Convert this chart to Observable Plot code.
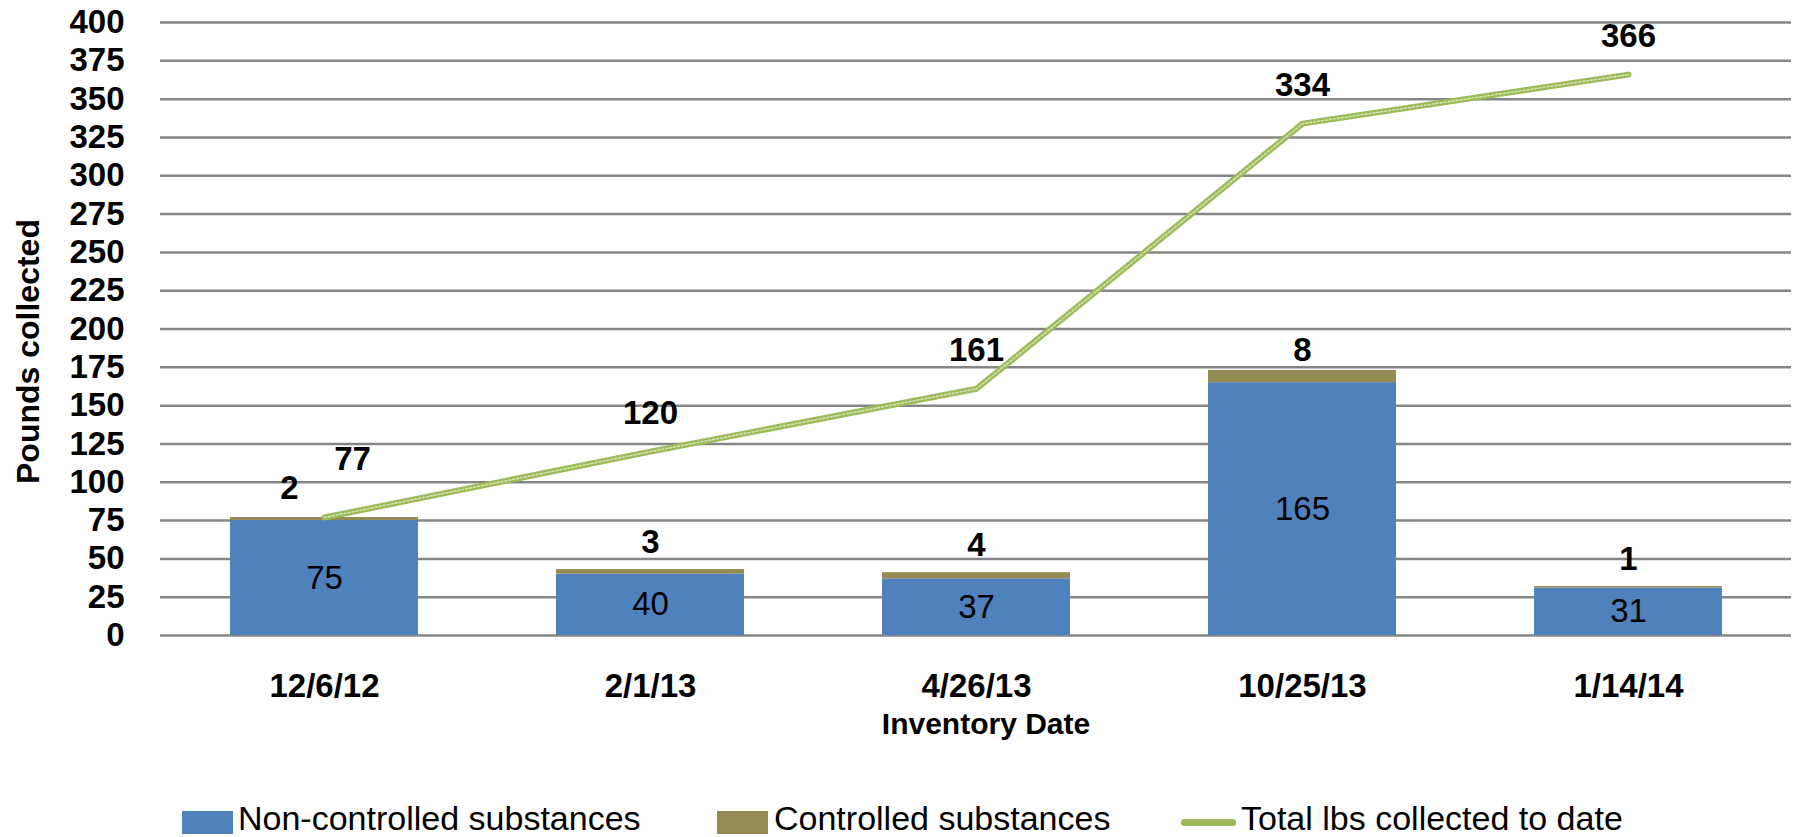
<!DOCTYPE html>
<html>
<head>
<meta charset="utf-8">
<script src="https://cdn.jsdelivr.net/npm/d3@7"></script>
<script src="https://cdn.jsdelivr.net/npm/@observablehq/plot@0.6"></script>
<style>
  html, body { margin: 0; padding: 0; background: #fff; }
  body { width: 1794px; height: 837px; overflow: hidden; font-family: "Liberation Sans", Arial, sans-serif; color: #000; }
  #legend { position: relative; width: 1794px; height: 47px; }
  #legend .sw { position: absolute; }
  #legend .lt { position: absolute; font-size: 34px; line-height: 26px; white-space: nowrap; }
</style>
</head>
<body>
<div id="chart"></div>
<div id="legend"></div>
<script>
// ---- data ----
const dates = ["12/6/12", "2/1/13", "4/26/13", "10/25/13", "1/14/14"];
const nonControlled = [75, 40, 37, 165, 31];
const controlled = [2, 3, 4, 8, 1];
const totalToDate = [77, 120, 161, 334, 366];
const yTicks = [0, 25, 50, 75, 100, 125, 150, 175, 200, 225, 250, 275, 300, 325, 350, 375, 400];
const seriesNames = ["Non-controlled substances", "Controlled substances", "Total lbs collected to date"];
const seriesColors = ["#4F81BD", "#948A54", "#9BBB59"];

// ---- tables built from the arrays ----
const bars = dates.flatMap((d, i) => [
  {date: d, type: seriesNames[0], value: nonControlled[i]},
  {date: d, type: seriesNames[1], value: controlled[i]}
]);
const rows = dates.map((d, i) => ({i, date: d, nc: nonControlled[i], c: controlled[i], total: totalToDate[i]}));

const bold = {fontSize: 33, fontWeight: "bold"};
const chart = Plot.plot({
  width: 1794,
  height: 790,
  marginLeft: 160,
  marginRight: 3,
  marginTop: 22,
  marginBottom: 155,
  style: {fontFamily: "'Liberation Sans', Arial, sans-serif", background: "white", color: "black"},
  x: {domain: dates, paddingInner: 0.424, paddingOuter: 0.212, label: null},
  y: {domain: [0, 400], label: null},
  color: {domain: seriesNames.slice(0, 2), range: seriesColors.slice(0, 2)},
  marks: [
    Plot.ruleY(yTicks, {stroke: "#868686", strokeWidth: 2.5}),
    Plot.barY(bars, {x: "date", y: "value", fill: "type"}),
    Plot.line(rows, {x: "date", y: "total", stroke: seriesColors[2], strokeWidth: 6, strokeLinecap: "round", strokeLinejoin: "round"}),
    Plot.line(rows, {x: "date", y: "total", stroke: "#D4E3B5", strokeWidth: 1.5, strokeDasharray: "2,2"}),
    Plot.axisY({ticks: yTicks, tickSize: 0, tickPadding: 36, fontSize: 33, fontWeight: "bold", label: null}),
    Plot.axisX({tickSize: 0, tickPadding: 38, fontSize: 33, fontWeight: "bold", label: null}),
    // values inside the blue segments
    Plot.text(rows, {x: "date", y: d => d.nc / 2, text: "nc", fontSize: 33}),
    // controlled-substance labels above each bar
    Plot.text(rows, {filter: d => d.i !== 0 && d.i !== 3, x: "date", y: d => d.nc + d.c, text: "c", dy: -27, ...bold}),
    Plot.text(rows, {filter: d => d.i === 0, x: "date", y: d => d.nc + d.c, text: "c", dx: -35, dy: -29, ...bold}),
    Plot.text(rows, {filter: d => d.i === 3, x: "date", y: d => d.nc + d.c, text: "c", dy: -20, ...bold}),
    // running total labels
    Plot.text(rows, {filter: d => d.i !== 0, x: "date", y: "total", text: "total", dy: -38.5, ...bold}),
    Plot.text(rows, {filter: d => d.i === 0, x: "date", y: "total", text: "total", dx: 28, dy: -58, ...bold}),
    // axis titles
    Plot.text(["Pounds collected"], {frameAnchor: "left", textAnchor: "middle", lineAnchor: "middle", rotate: -90, dx: -132, dy: 22.5, fontSize: 32, fontWeight: "bold"}),
    Plot.text(["Inventory Date"], {frameAnchor: "bottom", textAnchor: "middle", lineAnchor: "middle", dx: 10, dy: 89, fontSize: 30, fontWeight: "bold"})
  ]
});
document.getElementById("chart").appendChild(chart);

// ---- legend ----
const legend = document.getElementById("legend");
const legendItems = [
  {sw: {left: 182, top: 21, width: 51, height: 23}, text: 238},
  {sw: {left: 717, top: 21, width: 51, height: 23}, text: 774},
  {sw: {left: 1181, top: 28.5, width: 55, height: 7}, text: 1241}
];
legendItems.forEach((it, i) => {
  const sw = document.createElement("div");
  sw.className = "sw";
  Object.assign(sw.style, {
    left: it.sw.left + "px", top: it.sw.top + "px",
    width: it.sw.width + "px", height: it.sw.height + "px",
    background: seriesColors[i], borderRadius: i === 2 ? "3px" : "0"
  });
  legend.appendChild(sw);
  const t = document.createElement("span");
  t.className = "lt";
  t.style.left = it.text + "px";
  t.style.top = "14.5px";
  t.textContent = seriesNames[i];
  legend.appendChild(t);
});
</script>
</body>
</html>
